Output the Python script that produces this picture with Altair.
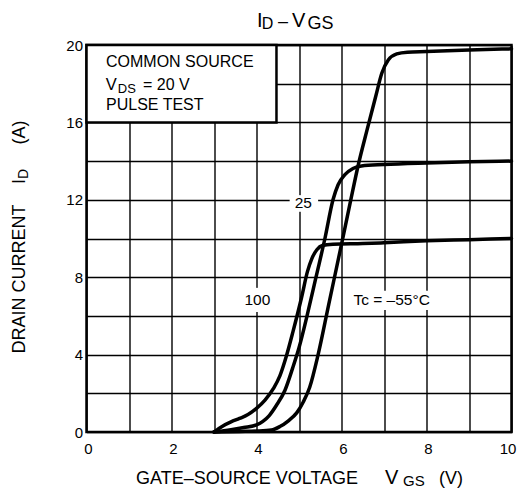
import altair as alt
import pandas as pd

FONT = "Liberation Sans"

# ---- curve data (V_GS in volts, I_D in amperes) ----
vgs_m55 = [3.0, 3.6, 4.0, 4.35, 4.55, 4.75, 4.95, 5.1, 5.25, 5.45, 5.7, 6.0, 6.2,
           6.4, 6.6, 6.8, 6.95, 7.1, 7.3, 7.55, 8.0, 9.0, 10.0]
id_m55 = [0.0, 0.03, 0.05, 0.1, 0.28, 0.58, 1.0, 1.55, 2.3, 4.0, 6.6, 9.7, 11.8,
          13.85, 15.6, 17.3, 18.55, 19.23, 19.54, 19.63, 19.66, 19.74, 19.8]

vgs_25 = [3.0, 3.4, 3.7, 4.0, 4.15, 4.3, 4.47, 4.67, 4.85, 5.0, 5.2, 5.4, 5.61,
          5.8, 5.92, 6.08, 6.27, 6.47, 7.0, 8.0, 9.0, 10.0]
id_25 = [0.0, 0.12, 0.23, 0.37, 0.55, 0.85, 1.38, 2.16, 3.3, 4.35, 6.1, 8.0, 10.0,
         12.0, 12.78, 13.3, 13.62, 13.75, 13.82, 13.9, 13.96, 14.0]

vgs_100 = [3.0, 3.2, 3.4, 3.6, 3.8, 4.0, 4.2, 4.4, 4.55, 4.7, 4.86, 5.06, 5.2,
           5.3, 5.42, 5.55, 5.8, 6.5, 7.0, 8.0, 9.0, 10.0]
id_100 = [0.0, 0.3, 0.52, 0.7, 0.9, 1.22, 1.65, 2.25, 2.9, 3.9, 5.2, 6.95, 8.3,
          8.95, 9.42, 9.64, 9.7, 9.74, 9.78, 9.88, 9.94, 10.0]

series_names = ["-55", "25", "100"]

x_ticks = list(range(0, 11))
y_ticks = list(range(0, 21, 2))

# curve labels (text, V_GS, I_D) and their white backgrounds
curve_labels = ["25", "100", "Tc = \u201355\u00b0C"]
curve_label_x = [5.10, 4.02, 7.18]
curve_label_y = [11.82, 6.81, 6.81]
label_bg_x0 = [4.78, 3.68, 6.20]
label_bg_x1 = [5.45, 4.33, 8.17]
label_bg_y0 = [11.38, 6.20, 6.30]
label_bg_y1 = [12.24, 7.45, 7.30]

# condition box
box_x = [0.0, 4.47]
box_y = [16.0, 20.0]
box_texts = ["COMMON SOURCE", "V", "DS", "= 20 V", "PULSE TEST"]
box_text_x = [0.459, 0.455, 0.735, 1.329, 0.459]
box_text_y = [18.85, 17.66, 17.54, 17.66, 16.64]
box_text_size = [16, 16.5, 13, 16, 16]

# ---- tables ----
rows = []
for name, xs, ys in zip(series_names, [vgs_m55, vgs_25, vgs_100], [id_m55, id_25, id_100]):
    for a, b in zip(xs, ys):
        rows.append({"vgs": a, "id": b, "tc": name})
curves = pd.DataFrame(rows)

x_scale = alt.Scale(domain=[0, 10], nice=False, zero=False)
y_scale = alt.Scale(domain=[0, 20], nice=False, zero=False)

x_axis = alt.Axis(values=x_ticks, labelExpr="datum.value % 2 == 0 ? datum.label : ''",
                  grid=True, gridColor="black", gridWidth=1.4, gridOpacity=1,
                  domain=False, ticks=False, labelFont=FONT, labelFontSize=15,
                  labelColor="black", labelPadding=9, labelFlush=False,
                  labelOffset={"expr": "datum.value == 10 ? -4 : 1.5"}, title=None)
y_axis = alt.Axis(values=y_ticks, labelExpr="datum.value % 4 == 0 ? datum.label : ''",
                  grid=True, gridColor="black", gridWidth=1.4, gridOpacity=1,
                  domain=False, ticks=False, labelFont=FONT, labelFontSize=15,
                  labelColor="black", labelPadding=4, labelFlush=False,
                  labelBaseline="middle", title=None)


def X(field):
    return alt.X(field, scale=x_scale, axis=x_axis)


def Y(field):
    return alt.Y(field, scale=y_scale, axis=y_axis)


lines = alt.Chart(curves).mark_line(color="black", strokeWidth=3.5, interpolate="monotone",
                                    strokeCap="round", strokeJoin="round").encode(
    x=X("vgs:Q"), y=Y("id:Q"), detail="tc:N")

box = alt.Chart(pd.DataFrame({"x0": [box_x[0]], "x1": [box_x[1]],
                              "y0": [box_y[0]], "y1": [box_y[1]]})).mark_rect(
    fill="white", stroke="black", strokeWidth=2.5).encode(
    x=X("x0:Q"), x2="x1", y=Y("y0:Q"), y2="y1")

bg = alt.Chart(pd.DataFrame({"x0": label_bg_x0, "x1": label_bg_x1,
                             "y0": label_bg_y0, "y1": label_bg_y1})).mark_rect(
    fill="white", strokeWidth=0).encode(
    x=X("x0:Q"), x2="x1", y=Y("y0:Q"), y2="y1")

lab = alt.Chart(pd.DataFrame({"t": curve_labels, "x": curve_label_x, "y": curve_label_y})).mark_text(
    font=FONT, fontSize=15.5, color="black", align="center", baseline="middle").encode(
    x=X("x:Q"), y=Y("y:Q"), text="t:N")

btxt = alt.Chart(pd.DataFrame({"t": box_texts, "x": box_text_x, "y": box_text_y,
                               "s": box_text_size})).mark_text(
    font=FONT, color="black", align="left", baseline="alphabetic").encode(
    x=X("x:Q"), y=Y("y:Q"),
    size=alt.Size("s:Q", scale=None, legend=None), text="t:N")

# titles built from pieces so that subscripts can be lowered and smaller
title_pieces = [
    # text, x(px), y(px), size, angle
    ("I", 170.5, -18.3, 20, 0), ("D", 175.2, -15.7, 16, 0), ("\u2013", 191.5, -18.3, 18, 0),
    ("V", 205.5, -18.3, 20, 0), ("GS", 221.0, -15.7, 18, 0),
    ("GATE\u2013SOURCE VOLTAGE", 49.5, 438.5, 18, 0), ("V", 298.5, 438.5, 20, 0),
    ("GS", 316.5, 441.0, 15, 0), ("(V)", 352.5, 438.5, 18, 0),
    ("DRAIN CURRENT", -61.5, 308.5, 18, 270), ("I", -61.5, 139.0, 18, 270),
    ("D", -58.8, 134.0, 14, 270), ("(A)", -61.5, 99.5, 18, 270),
]
title_layers = []
for t, px, py, fs, ang in title_pieces:
    title_layers.append(
        alt.Chart(pd.DataFrame({"t": [t]})).mark_text(
            font=FONT, fontSize=fs, color="black", align="left", baseline="alphabetic",
            angle=ang).encode(text="t:N", x=alt.value(px), y=alt.value(py)))

chart = alt.layer(lines, bg, box, lab, btxt, *title_layers).properties(
    width=425, height=387,
    padding={"left": 78.5, "top": 37, "right": 5, "bottom": 57},
    autosize=alt.AutoSizeParams(type="none"),
    background="white",
).configure_view(stroke="black", strokeWidth=2.5, fill="white")

chart.save("out.html", embed_options={"renderer": "svg", "actions": False})
